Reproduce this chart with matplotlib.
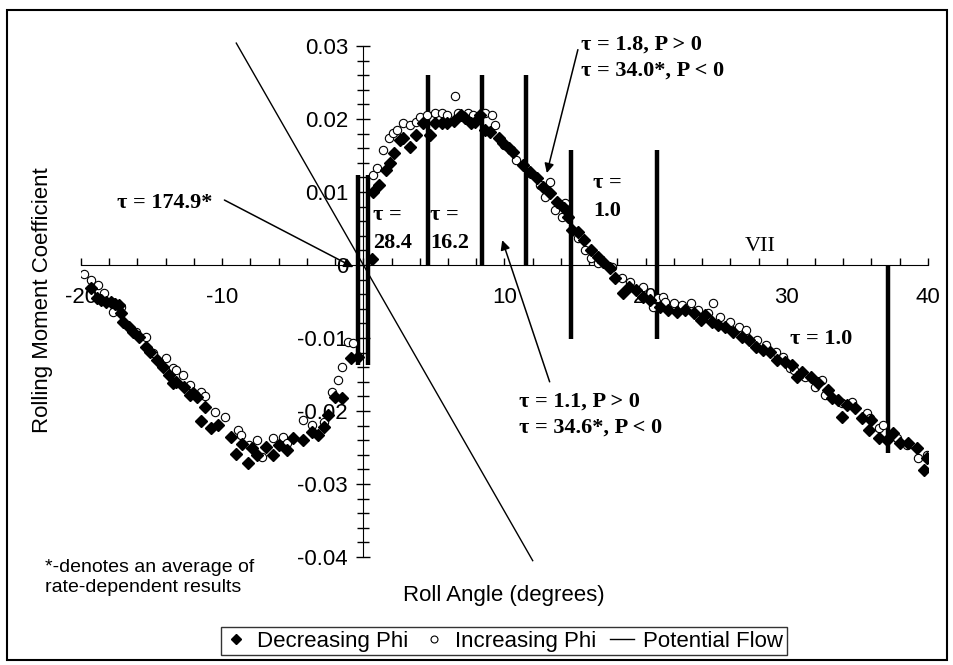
import matplotlib
matplotlib.use("Agg")
from matplotlib import pyplot as plt
from matplotlib.lines import Line2D
from matplotlib.patches import Rectangle

plt.rcParams['font.family'] = ['Liberation Sans', 'DejaVu Sans']

# decreasing phi (filled diamonds)
dec_x = [-19.3, -18.9, -18.6, -18.2, -17.9, -17.6, -17.3, -17.2, -17.0, -16.6, -16.3, -15.9, -15.4,
         -15.1, -14.6, -14.2, -13.8, -13.5, -13.3, -12.7, -12.3, -12.1, -11.8, -11.5, -11.2, -10.8,
         -10.3, -9.4, -9.0, -8.6, -8.2, -7.9, -7.5, -6.9, -6.4, -6.0, -5.4, -5.0, -4.3, -3.6, -3.2,
         -2.8, -2.5, -2.0, -1.5, -0.9, -0.4, 0.6, 0.7, 1.1, 1.6, 1.9, 2.2, 2.6, 2.8, 3.3, 3.7, 4.2,
         4.7, 5.1, 5.6, 5.9, 6.4, 6.9, 7.2, 7.6, 7.9, 8.3, 8.6, 9.0, 9.6, 9.9, 10.3, 10.6, 11.3,
         11.8, 12.3, 12.7, 13.2, 13.7, 14.2, 14.5, 14.8, 15.2, 15.6, 16.1, 16.6, 17.0, 17.5, 17.8,
         18.4, 18.8, 19.3, 19.8, 20.3, 21.0, 21.6, 22.2, 22.8, 23.4, 23.9, 24.2, 24.7, 25.1, 25.6,
         26.2, 26.8, 27.3, 27.8, 28.3, 28.8, 29.3, 29.9, 30.4, 30.7, 31.1, 31.7, 32.2, 32.9, 33.2,
         33.6, 33.9, 34.3, 34.8, 35.3, 35.8, 36.0, 36.5, 37.1, 37.5, 38.0, 38.6, 39.2, 39.7, 39.9]
dec_y = [-0.0032, -0.0045, -0.0048, -0.0050, -0.0051, -0.0053, -0.0055, -0.0066, -0.0078, -0.0085,
         -0.0092, -0.0099, -0.0112, -0.0119, -0.0130, -0.0140, -0.0151, -0.0162, -0.0160, -0.0167,
         -0.0178, -0.0175, -0.0181, -0.0214, -0.0194, -0.0223, -0.0219, -0.0235, -0.0259, -0.0245,
         -0.0271, -0.0251, -0.0260, -0.0249, -0.0260, -0.0247, -0.0253, -0.0237, -0.0240, -0.0229,
         -0.0233, -0.0222, -0.0205, -0.0181, -0.0182, -0.0128, -0.0126, 0.0008, 0.0100, 0.0110,
         0.0130, 0.0140, 0.0153, 0.0171, 0.0174, 0.0162, 0.0178, 0.0194, 0.0178, 0.0195, 0.0194,
         0.0194, 0.0197, 0.0205, 0.0201, 0.0194, 0.0196, 0.0205, 0.0185, 0.0182, 0.0174, 0.0167,
         0.0160, 0.0155, 0.0137, 0.0127, 0.0119, 0.0107, 0.0099, 0.0086, 0.0078, 0.0066, 0.0048,
         0.0045, 0.0034, 0.0021, 0.0011, 0.0004, -0.0004, -0.0018, -0.0038, -0.0030, -0.0034,
         -0.0044, -0.0048, -0.0057, -0.0062, -0.0064, -0.0062, -0.0066, -0.0075, -0.0068, -0.0078,
         -0.0082, -0.0085, -0.0092, -0.0099, -0.0103, -0.0112, -0.0116, -0.0119, -0.0130, -0.0133,
         -0.0137, -0.0153, -0.0147, -0.0153, -0.0162, -0.0171, -0.0182, -0.0185, -0.0208, -0.0192,
         -0.0196, -0.0210, -0.0226, -0.0212, -0.0237, -0.0240, -0.0230, -0.0244, -0.0244, -0.0251,
         -0.0281, -0.0264]

# increasing phi (open circles)
inc_x = [-19.8, -19.3, -18.8, -18.4, -17.8, -17.7, -17.2, -16.1, -15.4, -14.9, -14.0, -13.5, -13.3,
         -12.8, -12.3, -11.5, -11.2, -10.5, -9.8, -8.9, -8.7, -8.1, -7.5, -7.2, -6.4, -5.7, -5.4,
         -4.3, -3.6, -2.8, -2.2, -1.8, -1.5, -1.1, -0.7, 0.7, 1.0, 1.4, 1.8, 2.1, 2.4, 2.8, 3.3,
         3.7, 4.0, 4.5, 5.1, 5.6, 5.9, 6.5, 6.7, 7.4, 7.8, 8.6, 9.1, 9.3, 10.0, 10.8, 11.8, 12.5,
         12.9, 13.2, 13.6, 14.1, 14.3, 15.2, 15.7, 16.1, 16.6, 17.6, 18.3, 18.9, 19.8, 20.5, 20.9,
         21.2, 21.4, 22.0, 22.6, 23.2, 23.7, 24.4, 24.8, 25.3, 26.0, 26.6, 27.1, 27.9, 28.5, 29.2,
         29.7, 30.2, 30.5, 31.3, 32.0, 32.5, 32.7, 33.9, 34.6, 35.7, 35.9, 36.5, 36.8, 37.8, 38.5,
         39.3, 39.9]
inc_y = [-0.0012, -0.0021, -0.0027, -0.0038, -0.0051, -0.0064, -0.0057, -0.0092, -0.0099, -0.0121,
         -0.0127, -0.0141, -0.0144, -0.0151, -0.0164, -0.0174, -0.0180, -0.0201, -0.0208, -0.0226,
         -0.0233, -0.0247, -0.0240, -0.0263, -0.0237, -0.0236, -0.0244, -0.0212, -0.0219, -0.0215,
         -0.0174, -0.0157, -0.0140, -0.0105, -0.0107, 0.0123, 0.0133, 0.0158, 0.0174, 0.0181,
         0.0185, 0.0194, 0.0192, 0.0196, 0.0203, 0.0205, 0.0208, 0.0208, 0.0205, 0.0231, 0.0208,
         0.0208, 0.0205, 0.0208, 0.0205, 0.0192, 0.0165, 0.0144, 0.0126, 0.0110, 0.0093, 0.0114,
         0.0075, 0.0066, 0.0085, 0.0037, 0.0021, 0.0010, 0.0003, -0.0003, -0.0018, -0.0023, -0.0030,
         -0.0057, -0.0045, -0.0044, -0.0050, -0.0052, -0.0055, -0.0052, -0.0062, -0.0066, -0.0052,
         -0.0071, -0.0078, -0.0085, -0.0089, -0.0103, -0.0110, -0.0119, -0.0126, -0.0141, -0.0144,
         -0.0153, -0.0167, -0.0158, -0.0178, -0.0189, -0.0188, -0.0203, -0.0210, -0.0223, -0.0219,
         -0.0237, -0.0247, -0.0264, -0.0260]

# potential flow line
pf_x = [-9.0, 12.0]
pf_y = [0.0304, -0.0405]

# region boundaries (thick vertical bars)
bound_x = [-0.35, 0.35, 4.6, 8.4, 11.5, 14.7, 20.8, 37.2]
bound_lo = [-0.0137, -0.0137, 0, 0, 0, -0.0101, -0.0101, -0.0258]
bound_hi = [0.0123, 0.0123, 0.026, 0.026, 0.026, 0.0158, 0.0158, 0.0]

xtick_vals = [-20, -10, 10, 20, 30, 40]
xtick_labels = ['-20', '-10', '10', '20', '30', '40']
ytick_vals = [0.03, 0.02, 0.01, 0, -0.01, -0.02, -0.03, -0.04]
ytick_labels = ['0.03', '0.02', '0.01', '0', '-0.01', '-0.02', '-0.03', '-0.04']

fig = plt.figure(figsize=(9.54, 6.65), dpi=100)
ax = fig.add_axes([0.0849, 0.1624, 0.8878, 0.7684])
ax.set_xlim(-20, 40)
ax.set_ylim(-0.04, 0.03)

ax.spines['left'].set_position(('data', 0))
ax.spines['bottom'].set_position(('data', 0))
ax.spines['top'].set_visible(False)
ax.spines['right'].set_visible(False)

ax.set_xticks(xtick_vals)
ax.set_xticklabels(xtick_labels)
ax.set_xticks(range(-20, 41, 2), minor=True)
ax.set_yticks(ytick_vals)
ax.set_yticklabels(ytick_labels)
ax.set_yticks([v / 1000 for v in range(-40, 31, 2)], minor=True)
ax.tick_params(axis='x', which='both', direction='in', length=5, width=1, labelsize=16, pad=16)
ax.tick_params(axis='y', which='major', direction='inout', length=10, width=1, labelsize=16, pad=6)
ax.tick_params(axis='y', which='minor', direction='inout', length=8, width=1)

ax.vlines(bound_x, bound_lo, bound_hi, colors='black', linewidth=3.2, zorder=3)
ax.plot(pf_x, pf_y, color='black', linewidth=1, clip_on=False, zorder=2)

ax.plot(inc_x, inc_y, linestyle='none', marker='o', markersize=6, markerfacecolor='white',
        markeredgecolor='black', markeredgewidth=0.8, zorder=4)
ax.plot(dec_x, dec_y, linestyle='none', marker='D', markersize=5.8, color='black', zorder=5)

serif = dict(family=['Liberation Serif', 'DejaVu Serif'], fontsize=16, fontweight='bold')
arrow = dict(arrowstyle='-|>', color='black', lw=1.1, mutation_scale=14, shrinkA=0, shrinkB=0)

ax.text(-14.1, 0.0085, 'τ = 174.9*', ha='center', va='center', **serif)
ax.annotate('', xy=(-0.7, -0.0003), xytext=(-9.84, 0.0089), arrowprops=arrow)
ax.text(0.7, 0.0049, 'τ =\n28.4', ha='left', va='center', linespacing=1.5, **serif)
ax.text(4.75, 0.0049, 'τ =\n16.2', ha='left', va='center', linespacing=1.5, **serif)
ax.text(15.4, 0.0284, 'τ = 1.8, P > 0\nτ = 34.0*, P < 0', ha='left', va='center',
        linespacing=1.4, **serif)
ax.annotate('', xy=(13.0, 0.0126), xytext=(15.2, 0.0295), arrowprops=arrow)
ax.text(16.3, 0.0093, 'τ =\n1.0', ha='left', va='center', linespacing=1.5, **serif)
ax.text(28.1, 0.0025, 'VII', ha='center', va='center', family=['Liberation Serif', 'DejaVu Serif'],
        fontsize=16)
ax.text(30.2, -0.0101, 'τ = 1.0', ha='left', va='center', **serif)
ax.text(11.0, -0.0205, 'τ = 1.1, P > 0\nτ = 34.6*, P < 0', ha='left', va='center',
        linespacing=1.4, **serif)
ax.annotate('', xy=(9.84, 0.0034), xytext=(13.2, -0.016), arrowprops=arrow)

fig.text(0.528, 0.105, 'Roll Angle (degrees)', ha='center', va='center', fontsize=16)
fig.text(0.045, 0.549, 'Rolling Moment Coefficient', ha='center', va='center', rotation=90,
         fontsize=16)
fig.text(0.047, 0.132, '*-denotes an average of\nrate-dependent results', ha='left', va='center',
         fontsize=14, linespacing=1.2)

handles = [Line2D([], [], linestyle='none', marker='D', markersize=5, color='black'),
           Line2D([], [], linestyle='none', marker='o', markersize=5, markerfacecolor='white',
                  markeredgecolor='black', markeredgewidth=0.8),
           Line2D([], [], color='black', linewidth=1)]
leg = fig.legend(handles, ['Decreasing Phi', 'Increasing Phi', 'Potential Flow'], loc='center',
                 bbox_to_anchor=(0.528, 0.036), ncol=3, fontsize=16, frameon=True, fancybox=False,
                 edgecolor='black', handlelength=1.1, handletextpad=0.4, columnspacing=0.6,
                 borderpad=0.15, borderaxespad=0)
leg.get_frame().set_linewidth(1)

fig.patches.append(Rectangle((7 / 954, 5 / 665), 940 / 954, 650 / 665, transform=fig.transFigure,
                             fill=False, edgecolor='black', linewidth=1.5))

fig.savefig('out.png', dpi=100)
